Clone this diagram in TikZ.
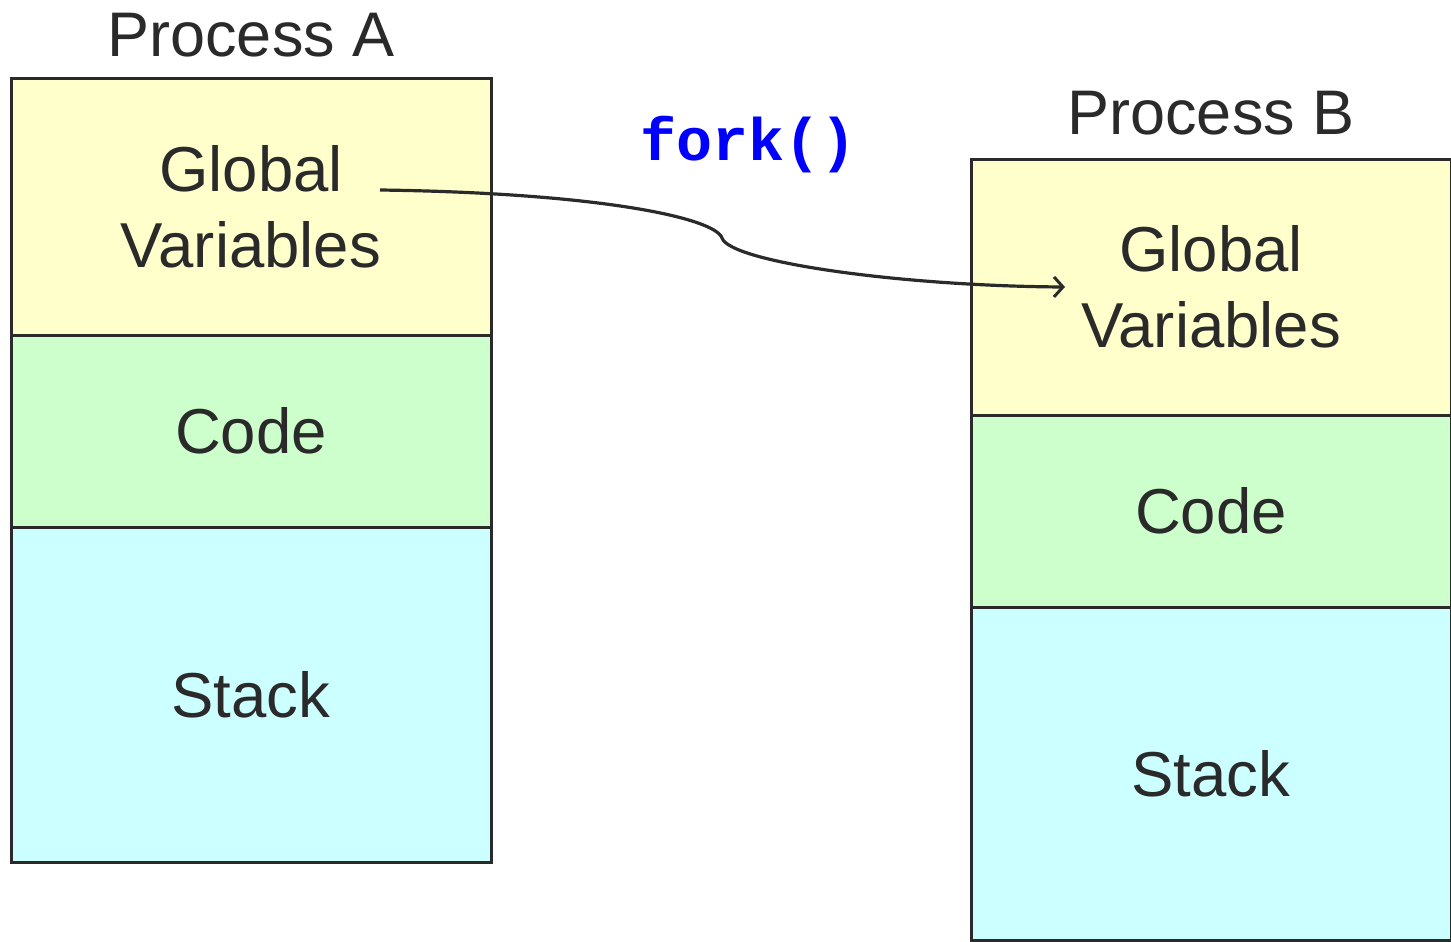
\documentclass[tikz,border=0pt]{standalone}
\usepackage{fontspec}
\setmainfont{Liberation Sans}
\newfontfamily\codefont{Liberation Mono}
\usetikzlibrary{arrows.meta}
\definecolor{ink}{HTML}{2A2A2A}
\definecolor{globfill}{HTML}{FFFFCC}
\definecolor{codefill}{HTML}{CCFFCC}
\definecolor{stackfill}{HTML}{CCFFFF}
\definecolor{forkblue}{HTML}{0000FF}
\begin{document}
\begin{tikzpicture}[x=1pt,y=-1pt,
  seg/.style={draw=ink, line width=3pt, rectangle, inner sep=0pt, outer sep=0pt,
    minimum width=480pt, anchor=north west, text=ink, align=center,
    font=\fontsize{63.5}{76}\selectfont},
  globseg/.style={seg, fill=globfill, minimum height=256pt},
  codeseg/.style={seg, fill=codefill, minimum height=192pt},
  stackseg/.style={seg, fill=stackfill, minimum height=335pt},
  title/.style={text=ink, inner sep=0pt, font=\fontsize{63}{75}\selectfont},
  link/.style={draw=ink, line width=3.2pt, -{Straight Barb[length=9pt,width=20pt,line width=3pt]}}
]
\useasboundingbox (0,0) rectangle (1451,942);

% Process A memory layout
\node[title] (titleA) at (251,35) {Process A};
\node[globseg]  (globA)  at (11,79)  {Global\\Variables};
\node[codeseg]  (codeA)  at (11,335) {Code};
\node[stackseg] (stackA) at (11,527) {Stack};

% Process B memory layout
\node[title] (titleB) at (1211,113) {Process B};
\node[globseg]  (globB)  at (971,159) {Global\\Variables};
\node[codeseg]  (codeB)  at (971,415) {Code};
\node[stackseg, minimum height=333pt] (stackB) at (971,607) {Stack};

% fork() call copying the globals
\node[text=forkblue, inner sep=0pt, font=\codefont\bfseries\fontsize{60}{70}\selectfont] (fork) at (749,145) {fork()};
\coordinate (src) at (380,190);
\coordinate (dst) at (1065,287);
\draw[link] (src) .. controls (600,193) and (715,218) .. (722,238)
  .. controls (730,262) and (900,286) .. (dst);
\end{tikzpicture}
\end{document}
